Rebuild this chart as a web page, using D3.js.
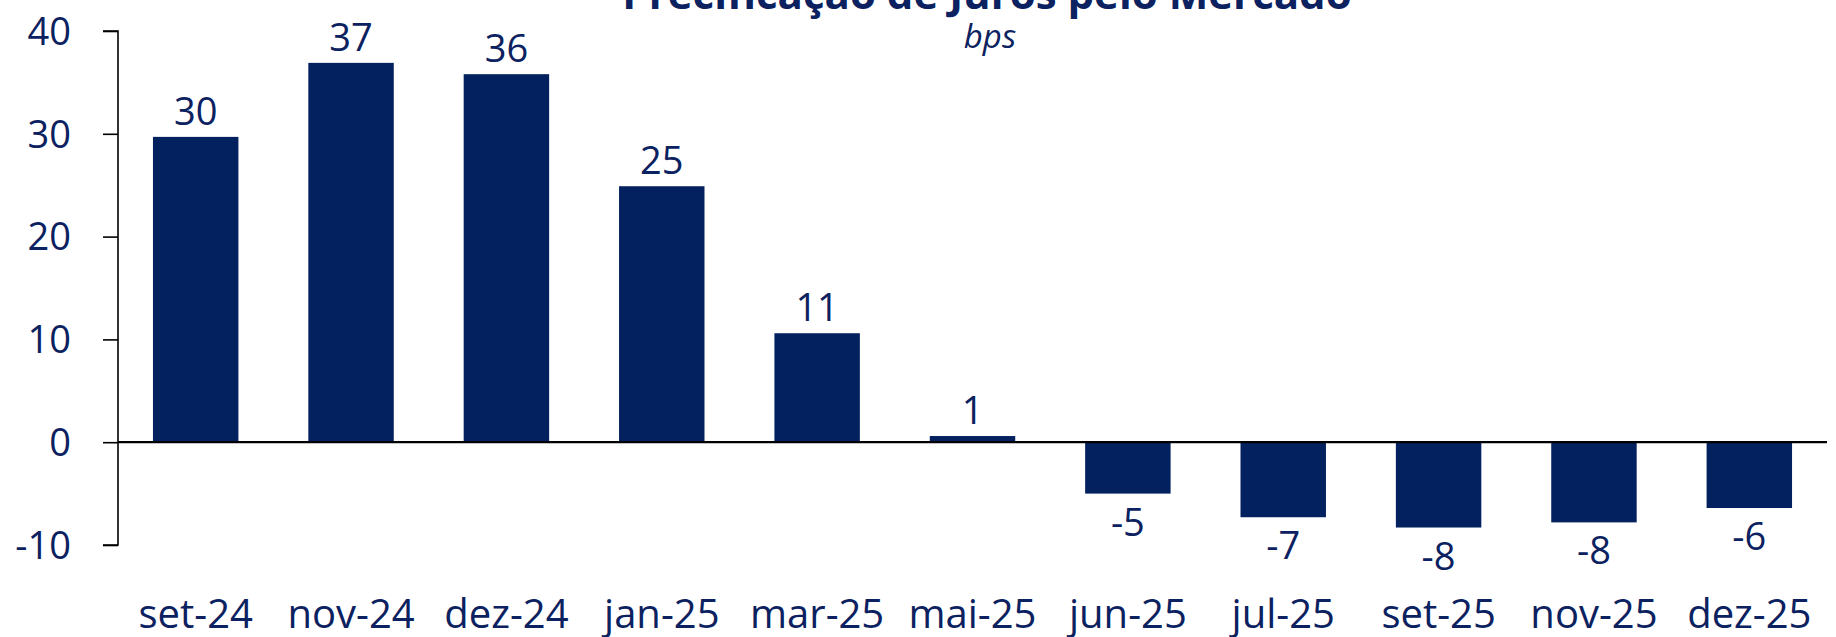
<!DOCTYPE html>
<html>
<head>
<meta charset="utf-8">
<script src="https://cdnjs.cloudflare.com/ajax/libs/d3/7.8.5/d3.min.js"></script>
<style>
  body { margin: 0; background: #fff; }
  text { font-family: "Open Sans", sans-serif; fill: #0b2160; }
</style>
</head>
<body>
<div id="chart"></div>
<script>
// data
var months = ['set-24', 'nov-24', 'dez-24', 'jan-25', 'mar-25', 'mai-25',
              'jun-25', 'jul-25', 'set-25', 'nov-25', 'dez-25'];
var bps = [29.7, 36.9, 35.8, 24.9, 10.6, 0.6, -5.0, -7.3, -8.3, -7.8, -6.4];
var yTicks = [-10, 0, 10, 20, 30, 40];

var title = 'Precificação de Juros pelo Mercado',
    subtitle = 'bps';

//set sizes
var width = 1836,
    height = 637,
    margin = { top: 31, right: 9, bottom: 92, left: 118 },
    navy = '#03215f';

var xScale, yScale, svg, chart;

xScale = d3.scaleBand()
  .domain(months)
  .range([margin.left, width - margin.right])
  .paddingInner(0.45)
  .paddingOuter(0.225);

yScale = d3.scaleLinear()
  .domain([-10, 40])
  .range([height - margin.bottom, margin.top]);

svg = d3.select('#chart')
  .append('svg')
  .attr('width', width)
  .attr('height', height);

// title, cut at the top like the original
svg.append('text')
  .attr('x', 987)
  .attr('y', 9)
  .attr('text-anchor', 'middle')
  .style('font-size', '42px')
  .style('font-weight', 'bold')
  .text(title);

svg.append('text')
  .attr('x', 990)
  .attr('y', 48)
  .attr('text-anchor', 'middle')
  .style('font-size', '33px')
  .style('font-style', 'italic')
  .text(subtitle);

//bars
chart = svg.append('g');

chart.selectAll('rect')
  .data(bps)
  .enter()
  .append('rect')
  .attr('fill', navy)
  .attr('x', function(d, i) { return xScale(months[i]); })
  .attr('width', xScale.bandwidth())
  .attr('y', function(d) { return yScale(Math.max(0, d)); })
  .attr('height', function(d) { return Math.abs(yScale(d) - yScale(0)); });

// value labels (plain hyphen for negatives, like the original)
chart.selectAll('text.val')
  .data(bps)
  .enter()
  .append('text')
  .attr('class', 'val')
  .attr('text-anchor', 'middle')
  .style('font-size', '38px')
  .attr('x', function(d, i) { return xScale(months[i]) + xScale.bandwidth() / 2; })
  .attr('y', function(d) { return d >= 0 ? yScale(d) - 12 : yScale(d) + 42; })
  .text(function(d) { return String(Math.round(d)); });

// y axis
var yAxis = svg.append('g')
  .attr('transform', 'translate(' + margin.left + ',0)')
  .call(d3.axisLeft(yScale)
    .tickValues(yTicks)
    .tickFormat(function(d) { return String(d); })
    .tickSize(15)
    .tickPadding(32));

yAxis.selectAll('path, line').attr('stroke', '#000').attr('stroke-width', 1.6);
yAxis.select('.domain').attr('d', 'M-15,' + yScale(40) + 'H0V' + yScale(-10) + 'H-15');
yAxis.selectAll('text')
  .style('font-size', '38px')
  .attr('dy', '0.35em');

// zero line
svg.append('line')
  .attr('x1', margin.left)
  .attr('x2', width - margin.right)
  .attr('y1', yScale(0))
  .attr('y2', yScale(0))
  .attr('stroke', '#000')
  .attr('stroke-width', 2.2);

// x labels
var xAxis = svg.append('g')
  .attr('transform', 'translate(0,' + (height - 9) + ')')
  .call(d3.axisBottom(xScale).tickSize(0).tickPadding(0));

xAxis.select('.domain').remove();
xAxis.selectAll('text')
  .attr('dy', 0)
  .style('font-size', '40px');
</script>
</body>
</html>
